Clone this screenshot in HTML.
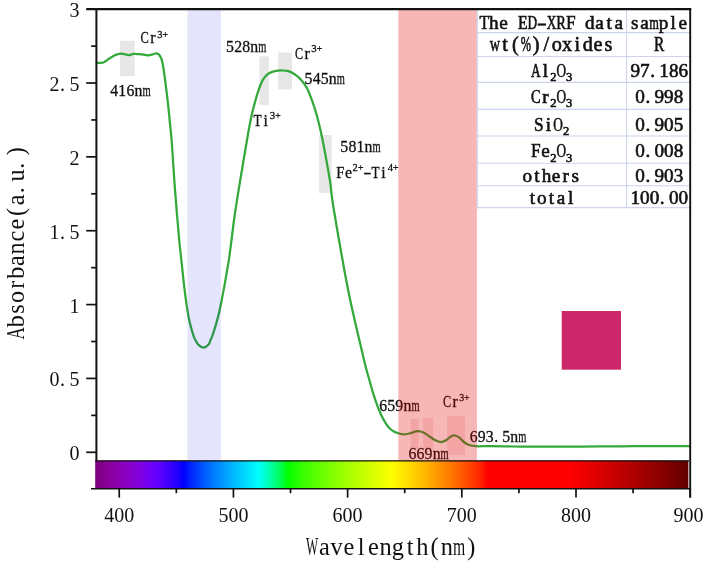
<!DOCTYPE html><html><head><meta charset="utf-8"><title>Absorbance spectrum</title>
<style>html,body{margin:0;padding:0;background:#fff}svg{display:block}text{font-family:"Liberation Serif","Noto Serif CJK SC",serif;fill:#111}.a{stroke:#111;stroke-width:.3px}.b{stroke:#111;stroke-width:.6px}</style></head><body>
<svg width="708" height="562" viewBox="0 0 708 562">
<defs><linearGradient id="spec" x1="0" y1="0" x2="1" y2="0"><stop offset="0.0000" stop-color="#7b007b"/><stop offset="0.0125" stop-color="#83008d"/><stop offset="0.0250" stop-color="#89009e"/><stop offset="0.0375" stop-color="#8b00af"/><stop offset="0.0500" stop-color="#8b00c0"/><stop offset="0.0625" stop-color="#8700d0"/><stop offset="0.0750" stop-color="#8100e0"/><stop offset="0.0875" stop-color="#7700f0"/><stop offset="0.1000" stop-color="#6a00ff"/><stop offset="0.1125" stop-color="#5400ff"/><stop offset="0.1250" stop-color="#3d00ff"/><stop offset="0.1375" stop-color="#2300ff"/><stop offset="0.1500" stop-color="#0000ff"/><stop offset="0.1625" stop-color="#0028ff"/><stop offset="0.1750" stop-color="#0046ff"/><stop offset="0.1875" stop-color="#0061ff"/><stop offset="0.2000" stop-color="#007bff"/><stop offset="0.2125" stop-color="#0092ff"/><stop offset="0.2250" stop-color="#00a9ff"/><stop offset="0.2375" stop-color="#00c0ff"/><stop offset="0.2500" stop-color="#00d5ff"/><stop offset="0.2625" stop-color="#00eaff"/><stop offset="0.2750" stop-color="#00ffff"/><stop offset="0.2875" stop-color="#00ffcb"/><stop offset="0.3000" stop-color="#00ff92"/><stop offset="0.3125" stop-color="#00ff54"/><stop offset="0.3250" stop-color="#00ff00"/><stop offset="0.3375" stop-color="#1fff00"/><stop offset="0.3500" stop-color="#36ff00"/><stop offset="0.3625" stop-color="#4aff00"/><stop offset="0.3750" stop-color="#5eff00"/><stop offset="0.3875" stop-color="#70ff00"/><stop offset="0.4000" stop-color="#81ff00"/><stop offset="0.4125" stop-color="#92ff00"/><stop offset="0.4250" stop-color="#a3ff00"/><stop offset="0.4375" stop-color="#b3ff00"/><stop offset="0.4500" stop-color="#c3ff00"/><stop offset="0.4625" stop-color="#d2ff00"/><stop offset="0.4750" stop-color="#e1ff00"/><stop offset="0.4875" stop-color="#f0ff00"/><stop offset="0.5000" stop-color="#ffff00"/><stop offset="0.5125" stop-color="#ffef00"/><stop offset="0.5250" stop-color="#ffdf00"/><stop offset="0.5375" stop-color="#ffcf00"/><stop offset="0.5500" stop-color="#ffbe00"/><stop offset="0.5625" stop-color="#ffad00"/><stop offset="0.5750" stop-color="#ff9b00"/><stop offset="0.5875" stop-color="#ff8900"/><stop offset="0.6000" stop-color="#ff7700"/><stop offset="0.6125" stop-color="#ff6300"/><stop offset="0.6250" stop-color="#ff4f00"/><stop offset="0.6375" stop-color="#ff3900"/><stop offset="0.6500" stop-color="#ff2100"/><stop offset="0.6625" stop-color="#ff0000"/><stop offset="0.6750" stop-color="#ff0000"/><stop offset="0.6875" stop-color="#ff0000"/><stop offset="0.7000" stop-color="#ff0000"/><stop offset="0.7125" stop-color="#ff0000"/><stop offset="0.7250" stop-color="#ff0000"/><stop offset="0.7375" stop-color="#ff0000"/><stop offset="0.7500" stop-color="#ff0000"/><stop offset="0.7625" stop-color="#ff0000"/><stop offset="0.7750" stop-color="#ff0000"/><stop offset="0.7875" stop-color="#ff0000"/><stop offset="0.8000" stop-color="#ff0000"/><stop offset="0.8125" stop-color="#f60000"/><stop offset="0.8250" stop-color="#ed0000"/><stop offset="0.8375" stop-color="#e40000"/><stop offset="0.8500" stop-color="#db0000"/><stop offset="0.8625" stop-color="#d10000"/><stop offset="0.8750" stop-color="#c80000"/><stop offset="0.8875" stop-color="#be0000"/><stop offset="0.9000" stop-color="#b50000"/><stop offset="0.9125" stop-color="#ab0000"/><stop offset="0.9250" stop-color="#a10000"/><stop offset="0.9375" stop-color="#970000"/><stop offset="0.9500" stop-color="#8d0000"/><stop offset="0.9625" stop-color="#820000"/><stop offset="0.9750" stop-color="#770000"/><stop offset="0.9875" stop-color="#6d0000"/><stop offset="1.0000" stop-color="#610000"/></linearGradient></defs>
<rect width="708" height="562" fill="#fff"/>
<rect x="120.0" y="40.8" width="14.7" height="35.4" fill="#e7e7e7"/>
<rect x="259.4" y="56.4" width="9.4" height="48.6" fill="#e7e7e7"/>
<rect x="278.0" y="52.5" width="14.0" height="37.0" fill="#e7e7e7"/>
<rect x="319.0" y="135.0" width="12.7" height="58.0" fill="#e7e7e7"/>
<path d="M96.6 62.8 C97.2 62.8 98.9 62.8 100.0 62.8 C101.1 62.8 102.2 63.0 103.4 62.5 C104.6 62.0 106.2 60.6 107.4 59.9 C108.6 59.1 109.4 58.6 110.3 58.0 C111.2 57.4 112.0 56.8 113.0 56.2 C114.0 55.7 115.2 55.1 116.5 54.7 C117.8 54.3 119.0 53.8 120.5 53.7 C122.0 53.6 124.2 54.1 125.6 54.3 C127.0 54.5 127.7 55.2 129.0 55.1 C130.3 55.0 131.9 54.0 133.6 53.9 C135.3 53.8 137.4 54.1 139.3 54.2 C141.2 54.4 143.5 54.6 145.0 54.8 C146.5 55.0 147.1 55.4 148.4 55.3 C149.7 55.2 151.6 54.6 152.9 54.3 C154.2 54.0 155.5 53.3 156.4 53.3 C157.3 53.3 157.9 53.9 158.4 54.2 C158.9 54.5 158.9 54.2 159.4 55.1 C159.9 56.0 161.0 57.4 161.7 59.6 C162.4 61.8 162.9 65.0 163.5 68.5 C164.1 72.0 164.6 76.5 165.2 80.9 C165.8 85.4 166.4 90.5 167.0 95.2 C167.6 100.0 168.1 104.7 168.6 109.4 C169.1 114.1 169.5 118.5 170.0 123.6 C170.5 128.7 170.9 131.3 171.6 140.0 C172.3 148.7 173.2 163.7 174.0 175.6 C174.8 187.5 175.8 200.5 176.7 211.2 C177.6 221.9 178.4 231.3 179.2 240.0 C180.0 248.7 180.9 255.4 181.7 263.1 C182.5 270.8 183.3 278.9 184.2 286.3 C185.1 293.7 186.0 301.4 187.0 307.6 C188.0 313.8 188.9 318.9 190.0 323.6 C191.1 328.3 192.7 333.3 193.6 336.0 C194.5 338.7 194.6 338.6 195.4 340.0 C196.2 341.4 196.8 343.3 198.2 344.6 C199.5 345.9 201.8 347.6 203.5 347.6 C205.2 347.6 207.4 345.9 208.6 344.6 C209.8 343.3 209.9 341.4 210.5 340.0 C211.1 338.6 211.4 338.7 212.3 336.0 C213.2 333.3 214.9 328.0 216.2 323.6 C217.4 319.2 218.7 314.4 219.8 309.4 C220.9 304.4 221.9 299.0 223.0 293.4 C224.1 287.8 225.2 281.5 226.2 275.6 C227.2 269.7 228.3 263.7 229.2 257.8 C230.1 251.9 230.6 246.9 231.5 240.0 C232.4 233.1 233.4 224.3 234.5 216.5 C235.6 208.7 236.8 201.7 238.1 193.4 C239.4 185.1 241.0 175.6 242.5 166.7 C244.0 157.8 245.6 148.1 247.0 140.0 C248.4 131.9 249.9 123.7 251.0 118.3 C252.1 112.9 252.5 111.4 253.5 107.6 C254.5 103.8 255.8 99.0 257.0 95.2 C258.2 91.4 259.4 87.4 260.6 84.5 C261.8 81.6 262.9 79.6 264.2 77.8 C265.5 76.0 266.8 74.6 268.6 73.5 C270.4 72.4 272.6 71.6 274.8 71.1 C277.0 70.6 279.6 70.2 282.0 70.3 C284.4 70.3 286.7 70.6 289.1 71.4 C291.5 72.2 294.1 73.8 296.2 75.3 C298.3 76.8 299.8 78.3 301.6 80.4 C303.4 82.5 305.2 84.7 306.9 88.0 C308.6 91.3 310.3 95.8 311.9 100.2 C313.5 104.6 315.0 108.9 316.5 114.2 C318.0 119.5 319.6 126.1 320.9 132.0 C322.2 137.9 323.4 143.9 324.5 149.8 C325.6 155.7 326.7 162.0 327.7 167.6 C328.7 173.2 329.6 178.2 330.4 183.6 C331.2 189.0 331.2 192.8 332.3 200.0 C333.4 207.2 335.1 217.2 336.7 226.7 C338.3 236.2 340.4 248.1 342.0 257.0 C343.6 265.9 344.8 272.8 346.2 280.0 C347.6 287.2 348.8 293.3 350.2 300.0 C351.6 306.7 352.8 311.8 354.7 320.2 C356.6 328.6 359.9 342.5 361.8 350.5 C363.7 358.5 364.7 363.0 366.0 368.0 C367.3 373.0 368.4 376.5 369.6 380.7 C370.8 384.9 371.9 389.2 373.1 393.1 C374.3 397.0 375.5 400.5 376.7 403.8 C377.9 407.1 378.9 409.7 380.2 412.7 C381.5 415.7 383.1 418.9 384.7 421.6 C386.3 424.3 388.1 426.9 390.0 428.7 C391.9 430.5 394.1 431.7 396.3 432.6 C398.5 433.6 401.0 434.3 403.4 434.4 C405.8 434.5 408.4 433.7 410.5 433.2 C412.6 432.7 414.2 431.7 415.8 431.4 C417.4 431.1 418.8 431.1 420.3 431.4 C421.8 431.7 423.1 432.3 424.7 433.2 C426.3 434.1 428.2 435.5 430.0 436.7 C431.8 437.9 433.6 439.4 435.4 440.3 C437.2 441.2 438.9 442.0 440.7 442.0 C442.5 442.0 444.4 441.2 446.0 440.3 C447.6 439.4 449.0 437.5 450.5 436.7 C452.0 435.9 453.5 435.4 455.0 435.5 C456.5 435.6 457.9 436.5 459.4 437.6 C460.9 438.7 462.3 440.8 463.9 442.0 C465.5 443.2 467.2 444.3 469.2 445.0 C471.2 445.7 472.5 446.0 476.0 446.2 C479.5 446.4 483.7 446.1 490.0 446.2 C496.3 446.2 505.7 446.4 514.0 446.5 C522.3 446.6 529.0 446.6 540.0 446.6 C551.0 446.6 566.7 446.7 580.0 446.6 C593.3 446.6 606.7 446.4 620.0 446.3 C633.3 446.2 648.3 446.2 660.0 446.1 C671.7 446.1 685.0 446.0 690.0 446.0" fill="none" stroke="#33a93a" stroke-width="2.25" stroke-linejoin="round" stroke-linecap="round"/>
<text aria-label="416nm" font-size="15.8" text-anchor="middle" class="a"><tspan x="114.1 122.2 130.4 138.5" y="96.4">416n</tspan><tspan x="146.7" y="96.4" textLength="8.2" lengthAdjust="spacingAndGlyphs">m</tspan></text>
<text aria-label="Cr3+" font-size="15.8" text-anchor="middle" class="a"><tspan x="144.6" y="43.4" textLength="8.3" lengthAdjust="spacingAndGlyphs">C</tspan><tspan x="152.9" y="43.4">r</tspan><tspan x="159.8" y="37.8" font-size="10.5">3</tspan><tspan x="165.3" y="37.8" font-size="10.5" textLength="5.5" lengthAdjust="spacingAndGlyphs">+</tspan></text>
<text aria-label="528nm" font-size="15.8" text-anchor="middle" class="a"><tspan x="230.0 238.1 246.1 254.2" y="51.6">528n</tspan><tspan x="262.2" y="51.6" textLength="8.1" lengthAdjust="spacingAndGlyphs">m</tspan></text>
<text aria-label="Ti3+" font-size="15.8" text-anchor="middle" class="a"><tspan x="257.5" y="126.2" textLength="8.1" lengthAdjust="spacingAndGlyphs">T</tspan><tspan x="265.6" y="126.2">i</tspan><tspan x="272.4" y="119.4" font-size="10.8">3</tspan><tspan x="277.9" y="119.4" font-size="10.8" textLength="5.5" lengthAdjust="spacingAndGlyphs">+</tspan></text>
<text aria-label="Cr3+" font-size="15.8" text-anchor="middle" class="a"><tspan x="299.0" y="59.3" textLength="8.1" lengthAdjust="spacingAndGlyphs">C</tspan><tspan x="307.1" y="59.3">r</tspan><tspan x="313.9" y="52.3" font-size="10.8">3</tspan><tspan x="319.4" y="52.3" font-size="10.8" textLength="5.5" lengthAdjust="spacingAndGlyphs">+</tspan></text>
<text aria-label="545nm" font-size="15.8" text-anchor="middle" class="a"><tspan x="308.5 316.6 324.6 332.7" y="83.5">545n</tspan><tspan x="340.7" y="83.5" textLength="8.1" lengthAdjust="spacingAndGlyphs">m</tspan></text>
<text aria-label="581nm" font-size="15.8" text-anchor="middle" class="a"><tspan x="344.3 352.4 360.4 368.5" y="151.6">581n</tspan><tspan x="376.5" y="151.6" textLength="8.1" lengthAdjust="spacingAndGlyphs">m</tspan></text>
<text aria-label="Fe2+-Ti4+" font-size="15.8" text-anchor="middle" class="a"><tspan x="340.3" y="178.0" textLength="8.1" lengthAdjust="spacingAndGlyphs">F</tspan><tspan x="348.4" y="178.0">e</tspan><tspan x="355.2" y="171.2" font-size="10.5">2</tspan><tspan x="360.7" y="171.2" font-size="10.5" textLength="5.5" lengthAdjust="spacingAndGlyphs">+</tspan><tspan x="367.4" y="178.0" textLength="8.1" lengthAdjust="spacingAndGlyphs">-</tspan><tspan x="375.5" y="178.0" textLength="8.1" lengthAdjust="spacingAndGlyphs">T</tspan><tspan x="383.5" y="178.0">i</tspan><tspan x="390.3" y="171.2" font-size="10.5">4</tspan><tspan x="395.8" y="171.2" font-size="10.5" textLength="5.5" lengthAdjust="spacingAndGlyphs">+</tspan></text>
<text aria-label="659nm" font-size="15.8" text-anchor="middle" class="a"><tspan x="383.1 391.2 399.3 407.4" y="410.8">659n</tspan><tspan x="415.5" y="410.8" textLength="8.1" lengthAdjust="spacingAndGlyphs">m</tspan></text>
<text aria-label="Cr3+" font-size="15.8" text-anchor="middle" class="a"><tspan x="447.0" y="406.8" textLength="8.1" lengthAdjust="spacingAndGlyphs">C</tspan><tspan x="455.1" y="406.8">r</tspan><tspan x="461.7" y="400.5" font-size="10.0">3</tspan><tspan x="466.9" y="400.5" font-size="10.0" textLength="5.2" lengthAdjust="spacingAndGlyphs">+</tspan></text>
<text aria-label="693.5nm" font-size="15.8" text-anchor="middle" class="a"><tspan x="473.6 481.7 489.8 496.3 506.1 514.2" y="441.6">693.5n</tspan><tspan x="522.3" y="441.6" textLength="8.1" lengthAdjust="spacingAndGlyphs">m</tspan></text>
<text aria-label="669nm" font-size="15.8" text-anchor="middle" class="a"><tspan x="412.4 420.5 428.5 436.6" y="458.8">669n</tspan><tspan x="444.6" y="458.8" textLength="8.1" lengthAdjust="spacingAndGlyphs">m</tspan></text>
<rect x="398.3" y="10" width="78.6" height="451" fill="#e10000" fill-opacity="0.283"/>
<rect x="187.4" y="10" width="33.5" height="451" fill="#0000e2" fill-opacity="0.106"/>
<rect x="410.6" y="419.0" width="8.0" height="30.0" fill="#d80e14" fill-opacity="0.1"/>
<rect x="423.1" y="417.7" width="10.0" height="31.3" fill="#d80e14" fill-opacity="0.1"/>
<rect x="447.1" y="416.0" width="17.9" height="39.0" fill="#d80e14" fill-opacity="0.1"/>
<rect x="477" y="10" width="213" height="197.6" fill="#fff"/>
<line x1="477" y1="32.6" x2="690" y2="32.6" stroke="#ccd4ee" stroke-width="1.1"/>
<line x1="477" y1="56.5" x2="690" y2="56.5" stroke="#ccd4ee" stroke-width="1.1"/>
<line x1="477" y1="82.4" x2="690" y2="82.4" stroke="#ccd4ee" stroke-width="1.1"/>
<line x1="477" y1="109.4" x2="690" y2="109.4" stroke="#ccd4ee" stroke-width="1.1"/>
<line x1="477" y1="136.0" x2="690" y2="136.0" stroke="#ccd4ee" stroke-width="1.1"/>
<line x1="477" y1="163.2" x2="690" y2="163.2" stroke="#ccd4ee" stroke-width="1.1"/>
<line x1="477" y1="185.7" x2="690" y2="185.7" stroke="#ccd4ee" stroke-width="1.1"/>
<line x1="477" y1="207.6" x2="690" y2="207.6" stroke="#ccd4ee" stroke-width="1.1"/>
<line x1="477.3" y1="10" x2="477.3" y2="207.6" stroke="#ccd4ee" stroke-width="1.1"/>
<line x1="626.6" y1="10" x2="626.6" y2="207.6" stroke="#ccd4ee" stroke-width="1.1"/>
<rect x="561.7" y="311" width="59.3" height="58.7" fill="#cd2869"/>
<rect x="95.2" y="460.6" width="593.2" height="27.8" fill="url(#spec)"/>
<line x1="95.2" y1="460.8" x2="689" y2="460.8" stroke="#111" stroke-width="1.2"/>
<line x1="86.2" y1="9.15" x2="691.2" y2="9.15" stroke="#111" stroke-width="2.1"/>
<line x1="96.40" y1="9.15" x2="96.40" y2="461" stroke="#111" stroke-width="2"/>
<line x1="690.20" y1="8.15" x2="690.20" y2="497.6" stroke="#111" stroke-width="1.9"/>
<line x1="91" y1="488.8" x2="691" y2="488.8" stroke="#111" stroke-width="1.5"/>
<line x1="86.2" y1="452.30" x2="96.40" y2="452.30" stroke="#111" stroke-width="1.7"/>
<line x1="91.2" y1="415.37" x2="96.40" y2="415.37" stroke="#111" stroke-width="1.7"/>
<line x1="86.2" y1="378.44" x2="96.40" y2="378.44" stroke="#111" stroke-width="1.7"/>
<line x1="91.2" y1="341.51" x2="96.40" y2="341.51" stroke="#111" stroke-width="1.7"/>
<line x1="86.2" y1="304.58" x2="96.40" y2="304.58" stroke="#111" stroke-width="1.7"/>
<line x1="91.2" y1="267.65" x2="96.40" y2="267.65" stroke="#111" stroke-width="1.7"/>
<line x1="86.2" y1="230.72" x2="96.40" y2="230.72" stroke="#111" stroke-width="1.7"/>
<line x1="91.2" y1="193.80" x2="96.40" y2="193.80" stroke="#111" stroke-width="1.7"/>
<line x1="86.2" y1="156.87" x2="96.40" y2="156.87" stroke="#111" stroke-width="1.7"/>
<line x1="91.2" y1="119.94" x2="96.40" y2="119.94" stroke="#111" stroke-width="1.7"/>
<line x1="86.2" y1="83.01" x2="96.40" y2="83.01" stroke="#111" stroke-width="1.7"/>
<line x1="91.2" y1="46.08" x2="96.40" y2="46.08" stroke="#111" stroke-width="1.7"/>
<line x1="119.24" y1="488.9" x2="119.24" y2="497.6" stroke="#111" stroke-width="1.7"/>
<line x1="176.33" y1="488.9" x2="176.33" y2="493.2" stroke="#111" stroke-width="1.7"/>
<line x1="233.43" y1="488.9" x2="233.43" y2="497.6" stroke="#111" stroke-width="1.7"/>
<line x1="290.53" y1="488.9" x2="290.53" y2="493.2" stroke="#111" stroke-width="1.7"/>
<line x1="347.62" y1="488.9" x2="347.62" y2="497.6" stroke="#111" stroke-width="1.7"/>
<line x1="404.72" y1="488.9" x2="404.72" y2="493.2" stroke="#111" stroke-width="1.7"/>
<line x1="461.82" y1="488.9" x2="461.82" y2="497.6" stroke="#111" stroke-width="1.7"/>
<line x1="518.91" y1="488.9" x2="518.91" y2="493.2" stroke="#111" stroke-width="1.7"/>
<line x1="576.01" y1="488.9" x2="576.01" y2="497.6" stroke="#111" stroke-width="1.7"/>
<line x1="633.10" y1="488.9" x2="633.10" y2="493.2" stroke="#111" stroke-width="1.7"/>
<line x1="690.20" y1="488.9" x2="690.20" y2="497.6" stroke="#111" stroke-width="1.7"/>
<text aria-label="3" font-size="20.0" text-anchor="middle"><tspan x="74.6" y="17.0">3</tspan></text>
<text aria-label="2.5" font-size="20.0" text-anchor="middle"><tspan x="54.6 62.6 74.6" y="90.9">2.5</tspan></text>
<text aria-label="2" font-size="20.0" text-anchor="middle"><tspan x="74.6" y="164.8">2</tspan></text>
<text aria-label="1.5" font-size="20.0" text-anchor="middle"><tspan x="54.6 62.6 74.6" y="238.6">1.5</tspan></text>
<text aria-label="1" font-size="20.0" text-anchor="middle"><tspan x="74.6" y="312.5">1</tspan></text>
<text aria-label="0.5" font-size="20.0" text-anchor="middle"><tspan x="54.6 62.6 74.6" y="386.3">0.5</tspan></text>
<text aria-label="0" font-size="20.0" text-anchor="middle"><tspan x="74.6" y="460.2">0</tspan></text>
<text aria-label="400" font-size="20.0" text-anchor="middle"><tspan x="109.2 119.2 129.2" y="522.3">400</tspan></text>
<text aria-label="500" font-size="20.0" text-anchor="middle"><tspan x="223.4 233.4 243.4" y="522.3">500</tspan></text>
<text aria-label="600" font-size="20.0" text-anchor="middle"><tspan x="337.6 347.6 357.6" y="522.3">600</tspan></text>
<text aria-label="700" font-size="20.0" text-anchor="middle"><tspan x="451.8 461.8 471.8" y="522.3">700</tspan></text>
<text aria-label="800" font-size="20.0" text-anchor="middle"><tspan x="566.0 576.0 586.0" y="522.3">800</tspan></text>
<text aria-label="900" font-size="20.0" text-anchor="middle"><tspan x="678.4 688.4 698.4" y="522.3">900</tspan></text>
<text aria-label="Wavelength(nm)" font-size="24.4" text-anchor="middle"><tspan x="312.1" y="554.9" textLength="12.2" lengthAdjust="spacingAndGlyphs">W</tspan><tspan x="324.4 336.6 348.9 361.1 373.4 385.6 397.9 410.1 422.4 434.6 446.9" y="554.9">avelength(n</tspan><tspan x="459.1" y="554.9" textLength="12.2" lengthAdjust="spacingAndGlyphs">m</tspan><tspan x="471.4" y="554.9">)</tspan></text>
<g transform="translate(24.3,339.5) rotate(-90)"><text aria-label="Absorbance(a.u.)" font-size="24.2" text-anchor="middle"><tspan x="6.1" y="0.0" textLength="12.2" lengthAdjust="spacingAndGlyphs">A</tspan><tspan x="18.2 30.4 42.5 54.7 66.8 79.0 91.1 103.3 115.4 127.6 139.7 149.4 164.0 173.7 188.3" y="0.0">bsorbance(a.u.)</tspan></text></g>
<text aria-label="The ED-XRF data" font-size="19.2" text-anchor="middle" class="b"><tspan x="484.3" y="29.2" textLength="9.6" lengthAdjust="spacingAndGlyphs">T</tspan><tspan x="493.9 503.5 513.1" y="29.2">he </tspan><tspan x="522.7" y="29.2" textLength="9.6" lengthAdjust="spacingAndGlyphs">E</tspan><tspan x="532.3" y="29.2" textLength="9.6" lengthAdjust="spacingAndGlyphs">D</tspan><tspan x="541.9" y="29.2" textLength="9.6" lengthAdjust="spacingAndGlyphs">-</tspan><tspan x="551.5" y="29.2" textLength="9.6" lengthAdjust="spacingAndGlyphs">X</tspan><tspan x="561.1" y="29.2" textLength="9.6" lengthAdjust="spacingAndGlyphs">R</tspan><tspan x="570.7" y="29.2" textLength="9.6" lengthAdjust="spacingAndGlyphs">F</tspan><tspan x="580.3 589.9 599.5 609.1 618.7" y="29.2"> data</tspan></text>
<text aria-label="sample" font-size="19.2" text-anchor="middle" class="b"><tspan x="634.8 644.4" y="29.2">sa</tspan><tspan x="654.0" y="29.2" textLength="9.6" lengthAdjust="spacingAndGlyphs">m</tspan><tspan x="663.6 673.2 682.8" y="29.2">ple</tspan></text>
<text aria-label="wt(%)/oxides" font-size="20.2" text-anchor="middle" class="b"><tspan x="494.8" y="51.2" textLength="10.3" lengthAdjust="spacingAndGlyphs">w</tspan><tspan x="505.1 515.4" y="51.2">t(</tspan><tspan x="525.8" y="51.2" textLength="10.3" lengthAdjust="spacingAndGlyphs">%</tspan><tspan x="536.1 546.4 556.7 567.1 577.4 587.7 598.1 608.4" y="51.2">)/oxides</tspan></text>
<text aria-label="R" font-size="20.2" text-anchor="middle" class="b"><tspan x="659.2" y="51.2" textLength="10.3" lengthAdjust="spacingAndGlyphs">R</tspan></text>
<text aria-label="Al2O3" font-size="19.2" text-anchor="middle" class="b"><tspan x="535.8" y="76.6" textLength="9.6" lengthAdjust="spacingAndGlyphs">A</tspan><tspan x="545.4" y="76.6">l</tspan><tspan x="553.3" y="81.1" font-size="12.5">2</tspan><tspan x="561.2" y="76.6" textLength="9.6" lengthAdjust="spacingAndGlyphs">O</tspan><tspan x="569.1" y="81.1" font-size="12.5">3</tspan></text>
<text aria-label="Cr2O3" font-size="19.2" text-anchor="middle" class="b"><tspan x="535.8" y="102.5" textLength="9.6" lengthAdjust="spacingAndGlyphs">C</tspan><tspan x="545.4" y="102.5">r</tspan><tspan x="553.3" y="107.0" font-size="12.5">2</tspan><tspan x="561.2" y="102.5" textLength="9.6" lengthAdjust="spacingAndGlyphs">O</tspan><tspan x="569.1" y="107.0" font-size="12.5">3</tspan></text>
<text aria-label="SiO2" font-size="19.2" text-anchor="middle" class="b"><tspan x="538.9" y="130.8" textLength="9.6" lengthAdjust="spacingAndGlyphs">S</tspan><tspan x="548.5" y="130.8">i</tspan><tspan x="558.1" y="130.8" textLength="9.6" lengthAdjust="spacingAndGlyphs">O</tspan><tspan x="566.0" y="135.3" font-size="12.5">2</tspan></text>
<text aria-label="Fe2O3" font-size="19.2" text-anchor="middle" class="b"><tspan x="535.8" y="157.0" textLength="9.6" lengthAdjust="spacingAndGlyphs">F</tspan><tspan x="545.4" y="157.0">e</tspan><tspan x="553.3" y="161.5" font-size="12.5">2</tspan><tspan x="561.2" y="157.0" textLength="9.6" lengthAdjust="spacingAndGlyphs">O</tspan><tspan x="569.1" y="161.5" font-size="12.5">3</tspan></text>
<text aria-label="others" font-size="19.2" text-anchor="middle" class="b"><tspan x="527.3 536.9 546.5 556.1 565.7 575.3" y="181.7">others</tspan></text>
<text aria-label="total" font-size="19.2" text-anchor="middle" class="b"><tspan x="532.3 541.9 551.5 561.1 570.7" y="204.2">total</tspan></text>
<text aria-label="97.186" font-size="19.2" text-anchor="middle" class="b"><tspan x="635.3 644.9 652.6 664.1 673.7 683.3" y="76.6">97.186</tspan></text>
<text aria-label="0.998" font-size="19.2" text-anchor="middle" class="b"><tspan x="640.1 647.8 659.3 668.9 678.5" y="102.5">0.998</tspan></text>
<text aria-label="0.905" font-size="19.2" text-anchor="middle" class="b"><tspan x="640.1 647.8 659.3 668.9 678.5" y="130.8">0.905</tspan></text>
<text aria-label="0.008" font-size="19.2" text-anchor="middle" class="b"><tspan x="640.1 647.8 659.3 668.9 678.5" y="157.0">0.008</tspan></text>
<text aria-label="0.903" font-size="19.2" text-anchor="middle" class="b"><tspan x="640.1 647.8 659.3 668.9 678.5" y="181.7">0.903</tspan></text>
<text aria-label="100.00" font-size="19.2" text-anchor="middle" class="b"><tspan x="635.3 644.9 654.5 662.2 673.7 683.3" y="204.2">100.00</tspan></text>
</svg></body></html>
